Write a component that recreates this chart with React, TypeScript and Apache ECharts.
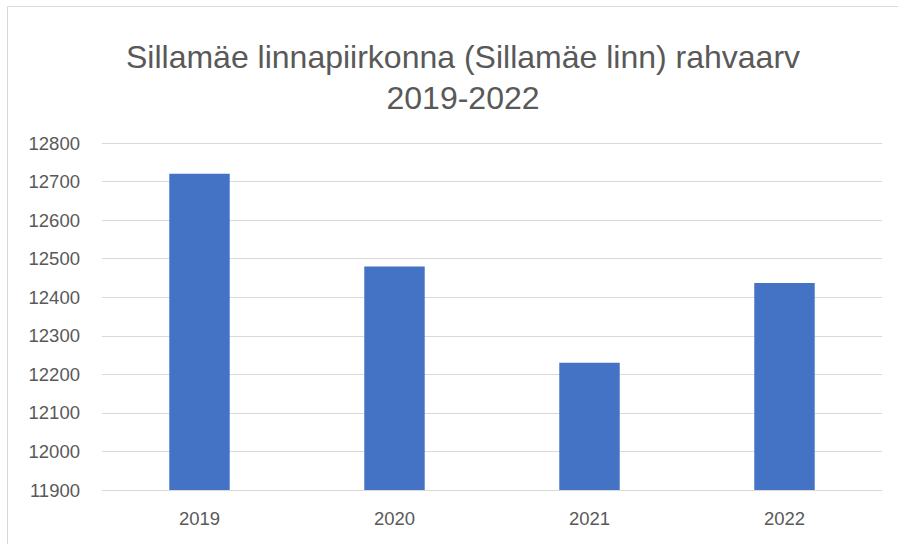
import React, { useEffect, useRef } from "react";
import * as echarts from "echarts";

const titleText = "Sillamäe linnapiirkonna (Sillamäe linn) rahvaarv\n2019-2022";
const categories = ["2019", "2020", "2021", "2022"];
const populationValues = [12720, 12480, 12230, 12437];
const yMin = 11900;
const yMax = 12800;
const yStep = 100;

export default function App() {
  const ref = useRef<HTMLDivElement>(null);
  useEffect(() => {
    if (!ref.current) return;
    const chart = echarts.init(ref.current, undefined, { renderer: "svg" });
    const font = "Liberation Sans, Arial, sans-serif";
    chart.setOption({
      animation: false,
      backgroundColor: "#ffffff",
      title: {
        text: titleText,
        left: 458,
        top: 31,
        textAlign: "center",
        textStyle: {
          fontFamily: font,
          fontSize: 32,
          fontWeight: "normal",
          color: "#595959",
          lineHeight: 41,
        },
      },
      graphic: [
        {
          type: "line",
          shape: { x1: 7.5, y1: 6.5, x2: 898, y2: 6.5 },
          style: { stroke: "#d9d9d9", lineWidth: 1 },
          silent: true,
        },
        {
          type: "line",
          shape: { x1: 7.5, y1: 6.5, x2: 7.5, y2: 544 },
          style: { stroke: "#d9d9d9", lineWidth: 1 },
          silent: true,
        },
      ],
      grid: { left: 102, right: 16, top: 143, bottom: 54, containLabel: false },
      xAxis: {
        type: "category",
        data: categories,
        axisLine: { show: true, lineStyle: { color: "#d9d9d9", width: 1 } },
        axisTick: { show: false },
        axisLabel: {
          color: "#595959",
          fontFamily: font,
          fontSize: 18.5,
          margin: 19,
        },
      },
      yAxis: {
        type: "value",
        min: yMin,
        max: yMax,
        interval: yStep,
        axisLine: { show: false },
        axisTick: { show: false },
        splitLine: { lineStyle: { color: "#d9d9d9", width: 1 } },
        axisLabel: {
          color: "#595959",
          fontFamily: font,
          fontSize: 18.5,
          margin: 22,
          formatter: (v: number) => String(v),
        },
      },
      series: [
        {
          type: "bar",
          data: populationValues,
          barWidth: "31%",
          itemStyle: { color: "#4472C4" },
        },
      ],
    });
    return () => chart.dispose();
  }, []);
  return (
    <div
      ref={ref}
      style={{ position: "absolute", left: 0, top: 0, width: 898, height: 544 }}
    />
  );
}
